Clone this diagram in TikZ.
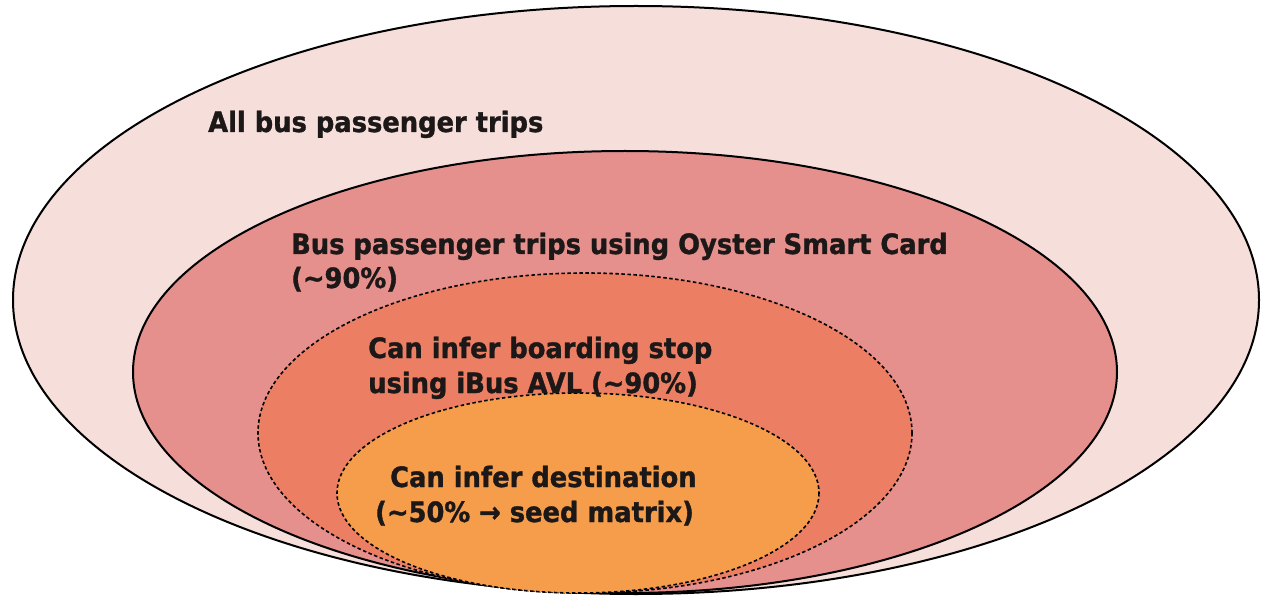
\documentclass[tikz,border=0pt]{standalone}
\usepackage{fontspec}
\setmainfont{DejaVu Sans}[FakeStretch=0.92]
\newfontfamily\lblfont{DejaVu Sans}[FakeStretch=0.92, BoldFeatures={FakeBold=1.2}]
\definecolor{outerfill}{RGB}{246,222,219}
\definecolor{cardfill}{RGB}{229,144,140}
\definecolor{boardfill}{RGB}{236,126,100}
\definecolor{destfill}{RGB}{246,157,76}
\definecolor{txt}{RGB}{28,24,24}
\tikzset{
  solidring/.style={draw=black, line width=2pt},
  dashring/.style={draw=black, line width=1.6pt, dash pattern=on 3.5pt off 2.5pt},
  lbl/.style={anchor=base west, inner sep=0pt, text=txt, font=\lblfont\fontsize{28}{34}\selectfont\bfseries}
}
\begin{document}
\begin{tikzpicture}[x=1pt,y=-1pt]
\fill[white] (0,0) rectangle (1264,596);
\useasboundingbox (0,0) rectangle (1264,596);
% ellipses
\path[solidring, fill=outerfill] (636,300) ellipse [x radius=623, y radius=294];
\path[solidring, fill=cardfill] (625,372) ellipse [x radius=492, y radius=221];
\path[dashring, fill=boardfill] (585,433) ellipse [x radius=327, y radius=160];
\path[dashring, fill=destfill] (578,493) ellipse [x radius=241, y radius=100];
% labels
\node[lbl] (all) at (208,132) {All bus passenger trips};
\node[lbl] (oy1) at (291,254) {Bus passenger trips using Oyster Smart Card};
\node[lbl] (oy2) at (291,288) {(\textasciitilde 90\%)};
\node[lbl] (bd1) at (368,358) {Can infer boarding stop};
\node[lbl] (bd2) at (368,393) {using iBus AVL (\textasciitilde 90\%)};
\node[lbl] (ds1) at (390,487) {Can infer destination};
\node[lbl] (ds2) at (375,522) {(\textasciitilde 50\% → seed matrix)};
\end{tikzpicture}
\end{document}
